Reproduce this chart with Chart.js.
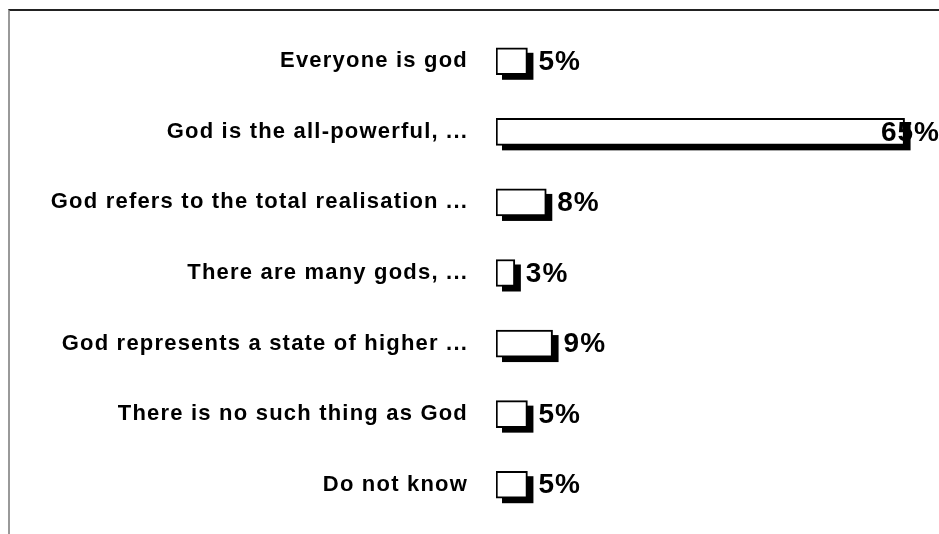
<!DOCTYPE html>
<html>
<head>
<meta charset="utf-8">
<script src="https://cdn.jsdelivr.net/npm/chart.js@4/dist/chart.umd.min.js"></script>
<style>
  html, body { margin: 0; padding: 0; background: #fff; }
  #wrap { position: relative; width: 939px; height: 534px; }
  #frame {
    position: absolute; left: 8px; top: 9px; right: 0; bottom: 0;
    border-top: 2px solid #222; border-left: 2px solid #999;
  }
  canvas { position: absolute; left: 0; top: 0; }
</style>
</head>
<body>
<div id="wrap">
  <div id="frame"></div>
  <canvas id="godChart" width="939" height="534"></canvas>
</div>
<script>
const categories = [
  'Everyone is god',
  'God is the all-powerful, ...',
  'God refers to the total realisation ...',
  'There are many gods, ...',
  'God represents a state of higher ...',
  'There is no such thing as God',
  'Do not know'
];
const percentValues = [5, 65, 8, 3, 9, 5, 5];
const valueLabels = ['5%', '65%', '8%', '3%', '9%', '5%', '5%'];

// black drop shadow under each bar (bar element clips its own drawing, so paint it first)
const barShadow = {
  id: 'barShadow',
  beforeDatasetsDraw(chart) {
    const ctx = chart.ctx;
    const meta = chart.getDatasetMeta(0);
    ctx.save();
    ctx.fillStyle = '#000';
    meta.data.forEach(function (bar) {
      const p = bar.getProps(['x', 'y', 'base', 'height']);
      const left = Math.min(p.x, p.base);
      const w = Math.abs(p.x - p.base);
      ctx.fillRect(left + 6, p.y - p.height / 2 + 5, w, p.height);
    });
    ctx.restore();
  }
};

// percent labels right of the bars, pushed back inside if they'd overflow
const valueText = {
  id: 'valueText',
  afterDatasetsDraw(chart) {
    const ctx = chart.ctx;
    const meta = chart.getDatasetMeta(0);
    ctx.save();
    ctx.font = 'bold 28px "Liberation Sans", Arial, sans-serif';
    ctx.letterSpacing = '1px';
    ctx.fillStyle = '#000';
    ctx.textBaseline = 'middle';
    ctx.textAlign = 'left';
    meta.data.forEach(function (bar, i) {
      const txt = valueLabels[i];
      const w = ctx.measureText(txt).width;
      const x = Math.min(bar.x + 11, chart.width - w + 1);
      ctx.fillText(txt, x, bar.y + 1);
    });
    ctx.restore();
  }
};

const spacing = {
  id: 'spacing',
  beforeDraw(chart) { chart.ctx.letterSpacing = '1.2px'; },
  afterDraw(chart) { chart.ctx.letterSpacing = '0px'; }
};

const ctx = document.getElementById('godChart').getContext('2d');
new Chart(ctx, {
  type: 'bar',
  data: {
    labels: categories,
    datasets: [{
      data: percentValues,
      backgroundColor: '#fff',
      borderColor: '#000',
      borderWidth: 2,
      borderSkipped: false,
      barThickness: 27
    }]
  },
  options: {
    indexAxis: 'y',
    responsive: false,
    animation: false,
    layout: { padding: { top: 26, bottom: 14, left: 0, right: 3 } },
    plugins: {
      legend: { display: false },
      tooltip: { enabled: false }
    },
    scales: {
      x: {
        display: false,
        min: 0,
        max: 70
      },
      y: {
        grid: { display: false },
        border: { display: false },
        ticks: {
          color: '#000',
          padding: 20,
          font: { family: '"Liberation Sans", Arial, sans-serif', size: 22, weight: 'bold' }
        },
        afterFit(scale) {
          scale.width = 496;
          // tick padding would otherwise push the plot area in from top/bottom
          scale.paddingTop = 0;
          scale.paddingBottom = 0;
        }
      }
    }
  },
  plugins: [spacing, barShadow, valueText]
});
</script>
</body>
</html>
